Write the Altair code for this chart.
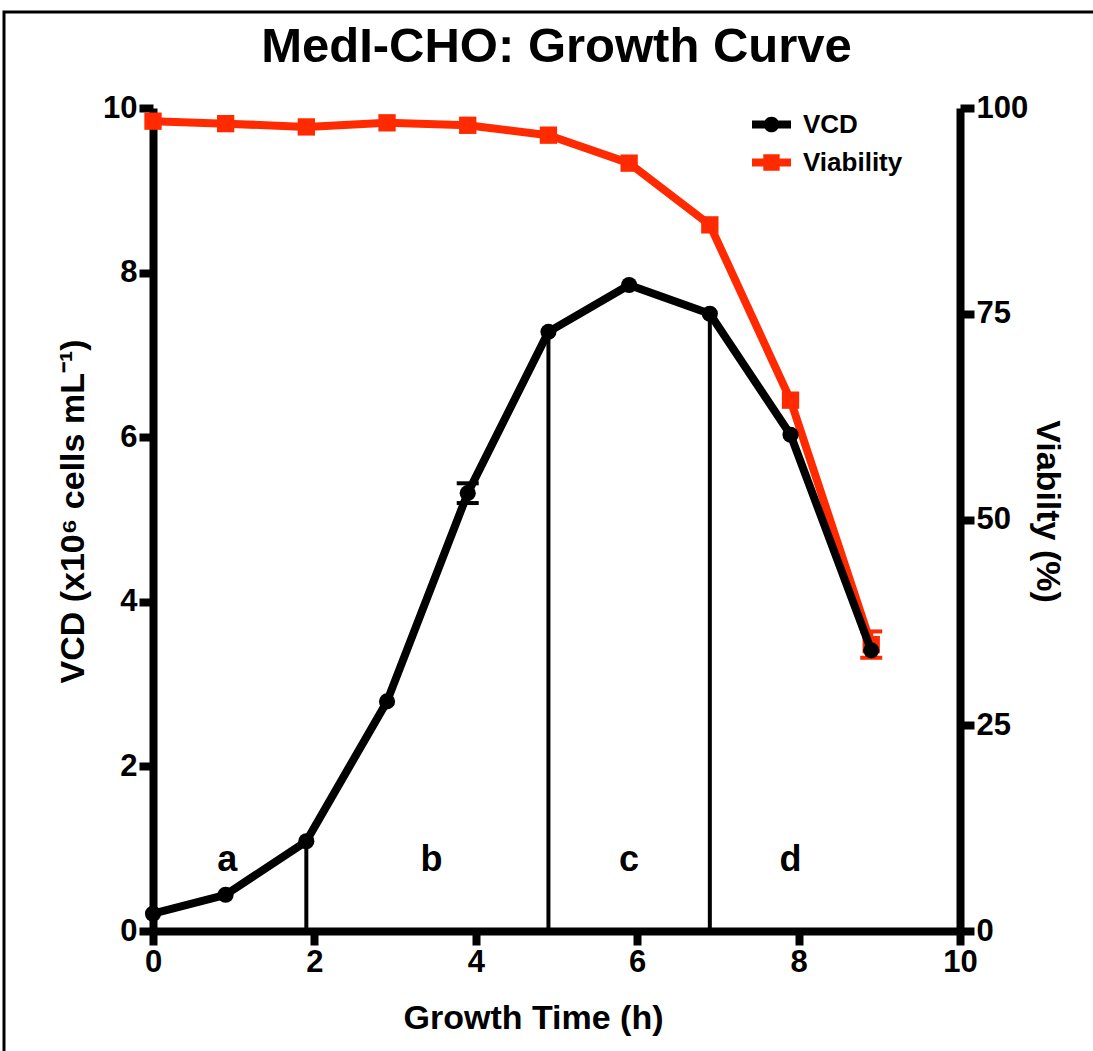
import altair as alt
import pandas as pd

# Growth time (h) and measured values for each sampling point
time_h = [0, 0.9, 1.9, 2.9, 3.9, 4.9, 5.9, 6.9, 7.9, 8.9]
vcd = [0.21, 0.44, 1.09, 2.79, 5.32, 7.28, 7.85, 7.50, 6.03, 3.41]
vcd_sd = [0, 0, 0, 0, 0.12, 0, 0, 0, 0, 0]
viability = [98.4, 98.1, 97.7, 98.2, 97.9, 96.7, 93.3, 85.8, 64.5, 34.8]
viability_sd = [0, 0, 0, 0, 0, 0, 0, 0, 0, 1.6]

series_names = ["VCD", "Viability"]

# Growth phases: boundaries and labels
phase_bounds = [1.9, 4.9, 6.9]
phase_names = ["a", "b", "c", "d"]
phase_label_x = [0.92, 3.45, 5.9, 7.9]
phase_label_y = [0.73, 0.73, 0.73, 0.73]

x_ticks = [0, 2, 4, 6, 8, 10]
vcd_ticks = [0, 2, 4, 6, 8, 10]
viability_ticks = [0, 25, 50, 75, 100]

RED = "#FF2A00"
FONT = "Liberation Sans"

df = pd.DataFrame({
    "time": time_h,
    "vcd": vcd,
    "vcd_sd": vcd_sd,
    "viability": viability,
    "viability_sd": viability_sd,
})
bounds_df = pd.DataFrame({
    "time": phase_bounds,
    "top": [vcd[time_h.index(t)] for t in phase_bounds],
})
labels_df = pd.DataFrame({"time": phase_label_x, "y": phase_label_y, "phase": phase_names})
legend_df = pd.DataFrame({"series": series_names})

# Legend glyphs: a line segment with the series marker in the middle
VCD_SYMBOL = ("M-1,-0.2H-0.3V0.2H-1Z M0.3,-0.2H1V0.2H0.3Z "
              "M-0.4,0A0.4,0.4 0 1,1 0.4,0A0.4,0.4 0 1,1 -0.4,0Z")
VIA_SYMBOL = ("M-1,-0.2H-0.42V0.2H-1Z M0.42,-0.2H1V0.2H0.42Z "
              "M-0.42,-0.42H0.42V0.42H-0.42Z")

x_scale = alt.Scale(domain=[0, 10], nice=False)
x_axis = alt.Axis(values=x_ticks, title="Growth Time (h)", titlePadding=24, titleX=380)
X = alt.X("time:Q", scale=x_scale, axis=x_axis)

vcd_scale = alt.Scale(domain=[0, 10], nice=False)
vcd_axis = alt.Axis(orient="left", values=vcd_ticks, title="VCD (x10⁶ cells mL⁻¹)",
                    titlePadding=12, titleY=403)
via_scale = alt.Scale(domain=[0, 100], nice=False)
via_axis = alt.Axis(orient="right", values=viability_ticks, title="Viabilty (%)",
                    titlePadding=2, titleY=403)

base = alt.Chart(df)

# ---- Viability (right axis) ----
via_line = base.mark_line(color=RED, strokeWidth=8, strokeJoin="round").encode(
    x=X, y=alt.Y("viability:Q", scale=via_scale, axis=via_axis))
via_err = base.transform_filter("datum.viability_sd > 0").transform_calculate(
    lo="datum.viability - datum.viability_sd", hi="datum.viability + datum.viability_sd"
).mark_rule(color=RED, strokeWidth=4, opacity=1).encode(
    x=X, y=alt.Y("lo:Q", scale=via_scale, axis=via_axis), y2="hi:Q")
via_caps = base.transform_filter("datum.viability_sd > 0").transform_calculate(
    lo="datum.viability - datum.viability_sd", hi="datum.viability + datum.viability_sd"
).transform_fold(["lo", "hi"], as_=["end", "bound"]).mark_tick(
    orient="horizontal", color=RED, size=22, thickness=4, opacity=1).encode(
    x=X, y=alt.Y("bound:Q", scale=via_scale, axis=via_axis))
via_pts = base.mark_point(shape="square", filled=True, size=300, color=RED, opacity=1).encode(
    x=X, y=alt.Y("viability:Q", scale=via_scale, axis=via_axis))
via_group = alt.layer(via_line, via_err, via_caps, via_pts)

# ---- VCD (left axis) ----
bounds = alt.Chart(bounds_df).mark_rule(color="black", strokeWidth=4, opacity=1).encode(
    x=X, y=alt.Y("zero:Q", scale=vcd_scale, axis=vcd_axis), y2="top:Q"
).transform_calculate(zero="0")
labels = alt.Chart(labels_df).mark_text(
    font=FONT, fontSize=36, fontWeight="bold", color="black", baseline="alphabetic"
).encode(x=X, y=alt.Y("y:Q", scale=vcd_scale, axis=vcd_axis), text="phase:N")
vcd_line = base.mark_line(color="black", strokeWidth=8, strokeJoin="round").encode(
    x=X, y=alt.Y("vcd:Q", scale=vcd_scale, axis=vcd_axis))
vcd_err = base.transform_filter("datum.vcd_sd > 0").transform_calculate(
    lo="datum.vcd - datum.vcd_sd", hi="datum.vcd + datum.vcd_sd"
).mark_rule(color="black", strokeWidth=4, opacity=1).encode(
    x=X, y=alt.Y("lo:Q", scale=vcd_scale, axis=vcd_axis), y2="hi:Q")
vcd_caps = base.transform_filter("datum.vcd_sd > 0").transform_calculate(
    lo="datum.vcd - datum.vcd_sd", hi="datum.vcd + datum.vcd_sd"
).transform_fold(["lo", "hi"], as_=["end", "bound"]).mark_tick(
    orient="horizontal", color="black", size=22, thickness=4, opacity=1).encode(
    x=X, y=alt.Y("bound:Q", scale=vcd_scale, axis=vcd_axis))
vcd_pts = base.mark_point(shape="circle", filled=True, size=260, color="black", opacity=1).encode(
    x=X, y=alt.Y("vcd:Q", scale=vcd_scale, axis=vcd_axis))

# Legend carrier: points kept outside the clipped plot area
series_legend = alt.Legend(title=None, orient="none", legendX=599, legendY=-3,
                           symbolSize=1521, symbolStrokeWidth=0,
                           labelFont=FONT, labelFontSize=26, labelFontWeight="bold",
                           labelColor="black", labelOffset=12, rowPadding=5, padding=0)
legend_layer = alt.Chart(legend_df).mark_point(filled=True, opacity=1, clip=True).encode(
    x=alt.value(-400), y=alt.value(-400),
    color=alt.Color("series:N", scale=alt.Scale(domain=series_names, range=["black", RED]),
                    legend=series_legend),
    shape=alt.Shape("series:N", scale=alt.Scale(domain=series_names,
                                                range=[VCD_SYMBOL, VIA_SYMBOL]),
                    legend=series_legend),
)
vcd_group = alt.layer(bounds, labels, vcd_line, vcd_err, vcd_caps, vcd_pts, legend_layer)

# Outer frame around the figure
frame = alt.Chart(pd.DataFrame({"f": [0]})).mark_rect(
    fillOpacity=0, stroke="black", strokeWidth=3).encode(
    x=alt.value(-149), x2=alt.value(950), y=alt.value(-96), y2=alt.value(960))

chart = alt.layer(frame, via_group, vcd_group).resolve_scale(y="independent").properties(
    width=807, height=823,
    background="white",
    padding={"left": 153, "top": 108, "right": 133, "bottom": 120},
    autosize=alt.AutoSizeParams(type="none"),
    title=alt.TitleParams("MedI-CHO: Growth Curve", font=FONT, fontSize=49,
                          fontWeight="bold", color="black", anchor="middle", offset=-61),
).configure_axis(
    grid=False, domainColor="black", domainWidth=8, tickColor="black", tickWidth=8,
    tickSize=14, labelFont=FONT, labelFontSize=31, labelFontWeight="bold",
    labelColor="black", labelPadding=2, labelFlush=False, titleFont=FONT, titleFontSize=34,
    titleFontWeight="bold", titleColor="black",
).configure_view(stroke=None)

chart.save("out.html", embed_options={"renderer": "svg", "actions": False})
